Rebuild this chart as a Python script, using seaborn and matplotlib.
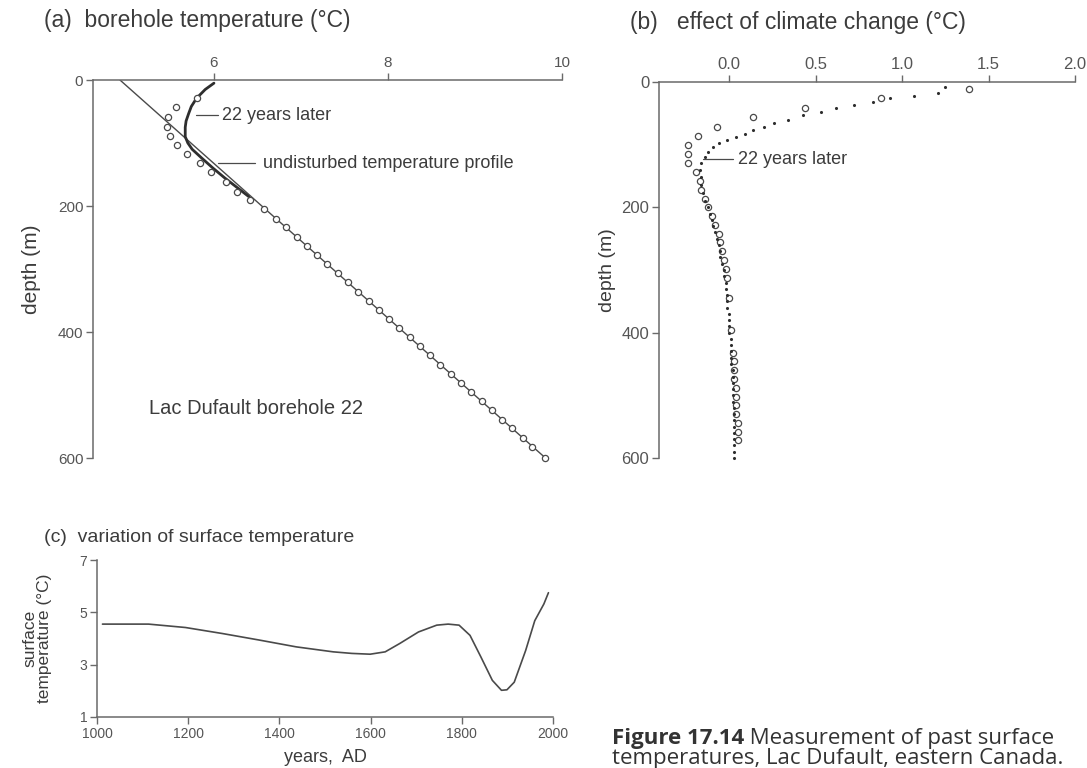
import matplotlib
matplotlib.use("Agg")
import matplotlib.pyplot as plt
import seaborn as sns
import pandas as pd

# ---------------- data ----------------
# (a) borehole temperature profile
undisturbed_depth = [0, 600]
undisturbed_temp = [4.92, 9.81]

later_depth = [5, 15, 29, 42, 53, 65, 75, 90, 100, 110, 124, 140, 155, 170, 185]
later_temp = [6.00, 5.90, 5.80, 5.74, 5.71, 5.68, 5.67, 5.67, 5.70, 5.75, 5.86, 5.99, 6.12, 6.26, 6.40]

measured_depth = [28, 43, 59, 75, 89, 103, 118, 132, 146, 162, 177, 191, 205, 220, 234,
                  249, 263, 278, 292, 307, 321, 336, 350, 365, 379, 394, 408, 423, 437,
                  452, 466, 481, 495, 510, 524, 539, 553, 568, 582, 600]
measured_temp = [5.80, 5.56, 5.47, 5.46, 5.50, 5.58, 5.69, 5.84, 5.97, 6.14, 6.27, 6.42,
                 6.57, 6.71, 6.83, 6.95, 7.07, 7.19, 7.30, 7.43, 7.54, 7.66, 7.78, 7.90,
                 8.01, 8.13, 8.25, 8.37, 8.48, 8.60, 8.72, 8.84, 8.95, 9.08, 9.19, 9.31,
                 9.43, 9.55, 9.66, 9.81]

# (b) departure from the undisturbed profile
circ_depth = [11, 25, 42, 56, 72, 86, 100, 115, 129, 143, 158, 172, 186, 200, 214, 228,
              242, 256, 270, 284, 298, 312, 345, 395, 432, 446, 460, 474, 488, 502, 516,
              530, 544, 558, 572]
circ_dT = [1.39, 0.88, 0.44, 0.14, -0.07, -0.18, -0.24, -0.24, -0.24, -0.19, -0.17, -0.16,
           -0.14, -0.12, -0.10, -0.08, -0.06, -0.05, -0.04, -0.03, -0.02, -0.01, 0.00,
           0.01, 0.02, 0.03, 0.03, 0.03, 0.04, 0.04, 0.04, 0.04, 0.05, 0.05, 0.05]

dot_depth = [8, 18, 22, 26, 32, 37, 42, 48, 53, 60, 66, 72, 77, 83, 88, 93, 98, 103, 111,
             119, 130, 140, 151, 164, 177, 190, 200, 210, 220, 230, 240, 250, 260, 270,
             280, 290, 300, 310, 320, 330, 340, 350, 360, 370, 380, 390, 400, 410, 420,
             430, 440, 450, 460, 470, 480, 490, 500, 510, 520, 530, 540, 550, 560, 570,
             580, 590, 600]
dot_dT = [1.25, 1.21, 1.07, 0.93, 0.83, 0.72, 0.62, 0.53, 0.43, 0.34, 0.26, 0.20, 0.14,
          0.09, 0.04, -0.01, -0.06, -0.09, -0.12, -0.14, -0.16, -0.17, -0.16, -0.16,
          -0.15, -0.14, -0.12, -0.11, -0.10, -0.09, -0.08, -0.07, -0.06, -0.05, -0.05,
          -0.04, -0.03, -0.03, -0.02, -0.02, -0.01, -0.01, -0.01, 0.00, 0.00, 0.00, 0.00,
          0.01, 0.01, 0.01, 0.01, 0.01, 0.02, 0.02, 0.02, 0.02, 0.02, 0.02, 0.03, 0.03,
          0.03, 0.03, 0.03, 0.03, 0.03, 0.03, 0.03]

# (c) reconstructed surface temperature history
years = [1012, 1113, 1194, 1275, 1356, 1437, 1518, 1559, 1599, 1632, 1664, 1705, 1745,
         1770, 1794, 1818, 1842, 1867, 1887, 1899, 1915, 1940, 1960, 1980, 1990]
surface_temp = [4.55, 4.55, 4.42, 4.19, 3.94, 3.68, 3.49, 3.43, 3.40, 3.49, 3.81, 4.25,
                4.51, 4.55, 4.51, 4.12, 3.29, 2.40, 2.02, 2.04, 2.33, 3.54, 4.68, 5.32, 5.75]

# ---------------- style ----------------
sns.set_theme(style="white")
plt.rcParams["font.family"] = ["Liberation Sans", "DejaVu Sans"]

TEXT = "#3c3c3c"
TICK = "#555555"
AXIS = "#6a6a6a"
LINE = "#4a4a4a"

W, H = 1087, 768
fig = plt.figure(figsize=(W / 100, H / 100), dpi=100)
fig.patch.set_facecolor("white")


def px_axes(left, top, right, bottom):
    return fig.add_axes([left / W, 1 - bottom / H, (right - left) / W, (bottom - top) / H])


def style_axis(ax, top_axis, labelsize):
    for s in ax.spines.values():
        s.set_visible(False)
    ax.spines["left"].set_visible(True)
    ax.spines["left"].set_color(AXIS)
    ax.spines["left"].set_linewidth(1.1)
    key = "top" if top_axis else "bottom"
    ax.spines[key].set_visible(True)
    ax.spines[key].set_color(AXIS)
    ax.spines[key].set_linewidth(1.1)
    ax.tick_params(axis="both", direction="out", length=5, width=1.0, color=AXIS,
                   labelcolor=TICK, labelsize=labelsize, pad=2,
                   left=True, bottom=not top_axis, top=top_axis,
                   labelbottom=not top_axis, labeltop=top_axis)
    ax.set_facecolor("white")
    ax.grid(False)


# ---------------- (a) ----------------
axa = px_axes(93, 80, 562, 458)
sns.lineplot(x=undisturbed_temp, y=undisturbed_depth, sort=False, estimator=None,
             color=LINE, lw=1.0, ax=axa)
sns.lineplot(x=later_temp, y=later_depth, sort=False, estimator=None,
             color="#2e2e2e", lw=2.0, ax=axa)
sns.scatterplot(x=measured_temp, y=measured_depth, marker="o", s=20, facecolor="white",
                edgecolor="#4a4a4a", linewidth=0.9, ax=axa, clip_on=False, zorder=3)
axa.set_xlim(4.61, 10.0)
axa.set_ylim(600, 0)
axa.xaxis.set_label_position("top")
style_axis(axa, top_axis=True, labelsize=11)
axa.set_xticks([6, 8, 10])
axa.set_yticks([0, 200, 400, 600])
axa.set_xlabel("")
axa.set_ylabel("depth (m)", fontsize=15, color=TEXT, labelpad=12)

# labels with leader lines
axa.plot([5.79, 6.05], [56, 56], color=LINE, lw=0.9)
axa.text(6.09, 56, "22 years later", fontsize=13, color=TEXT, va="center", ha="left")
axa.plot([6.05, 6.47], [132, 132], color=LINE, lw=0.9)
axa.text(6.56, 132, "undisturbed temperature profile", fontsize=13, color=TEXT,
         va="center", ha="left")
axa.text(5.25, 521, "Lac Dufault borehole 22", fontsize=14.5, color=TEXT,
         va="center", ha="left")

fig.text(44 / W, 1 - 20 / H, "(a)  borehole temperature (°C)", fontsize=16.5,
         color=TEXT, va="center", ha="left")

# ---------------- (b) ----------------
axb = px_axes(659, 82, 1075, 458)
sns.scatterplot(x=dot_dT, y=dot_depth, marker="o", s=5, color="#2e2e2e", linewidth=0,
                ax=axb, clip_on=False, zorder=3)
sns.scatterplot(x=circ_dT, y=circ_depth, marker="o", s=20, facecolor="white",
                edgecolor="#4a4a4a", linewidth=0.9, ax=axb, clip_on=False, zorder=2)
axb.set_xlim(-0.405, 2.0)
axb.set_ylim(600, 0)
axb.xaxis.set_label_position("top")
style_axis(axb, top_axis=True, labelsize=12)
axb.set_xticks([0.0, 0.5, 1.0, 1.5, 2.0])
axb.set_xticklabels(["0.0", "0.5", "1.0", "1.5", "2.0"])
axb.set_yticks([0, 200, 400, 600])
axb.set_xlabel("")
axb.set_ylabel("depth (m)", fontsize=14, color=TEXT, labelpad=4)

axb.plot([-0.15, 0.02], [123, 123], color=LINE, lw=0.9)
axb.text(0.05, 123, "22 years later", fontsize=13, color=TEXT, va="center", ha="left")

fig.text(630 / W, 1 - 22 / H, "(b)   effect of climate change (°C)", fontsize=16.5,
         color=TEXT, va="center", ha="left")

# ---------------- (c) ----------------
axc = px_axes(97, 560, 553, 717)
df_c = pd.DataFrame({"year": years, "temp": surface_temp})
sns.lineplot(data=df_c, x="year", y="temp", sort=False, estimator=None,
             color=LINE, lw=1.2, ax=axc)
axc.set_xlim(1000, 2000)
axc.set_ylim(1, 7)
style_axis(axc, top_axis=False, labelsize=10)
axc.set_xticks([1000, 1200, 1400, 1600, 1800, 2000])
axc.set_yticks([1, 3, 5, 7])
axc.set_xlabel("years,  AD", fontsize=13, color=TEXT, labelpad=6)
axc.set_ylabel("surface\ntemperature (°C)", fontsize=12.5, color=TEXT, labelpad=20,
               linespacing=0.95)

fig.text(44 / W, 1 - 537 / H, "(c)  variation of surface temperature", fontsize=14,
         color=TEXT, va="center", ha="left")

# ---------------- caption ----------------
cap_font = ["Open Sans", "DejaVu Sans"]
t_bold = fig.text(612 / W, 1 - 744 / H, "Figure 17.14", fontsize=16, fontweight="bold",
                  family=cap_font, color="#333333", va="baseline", ha="left")
axc.annotate(" Measurement of past surface", xy=(1, 0), xycoords=t_bold,
             fontsize=16, family=cap_font, color="#333333", va="bottom", ha="left",
             annotation_clip=False)
fig.text(612 / W, 1 - 764 / H, "temperatures, Lac Dufault, eastern Canada.", fontsize=16,
         family=cap_font, color="#333333", va="baseline", ha="left")

fig.savefig("out.png", dpi=100, facecolor="white")
